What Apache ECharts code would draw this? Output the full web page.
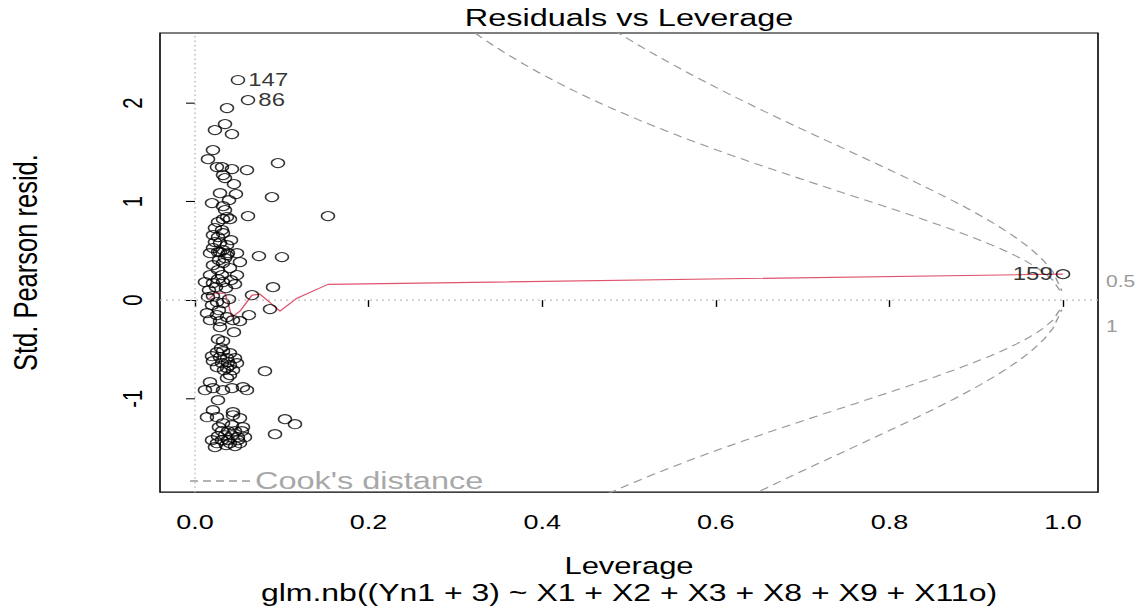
<!DOCTYPE html>
<html>
<head>
<meta charset="utf-8">
<script src="https://cdn.jsdelivr.net/npm/echarts@6/dist/echarts.min.js"></script>
<style>
  html, body { margin: 0; padding: 0; width: 1145px; height: 607px; overflow: hidden; background: #fff; }
  /* The figure is laid out on a 1145x809 canvas and compressed vertically to the 607px page height. */
  #chart { width: 1145px; height: 809px; transform: scaleY(0.7503); transform-origin: 0 0; }
</style>
</head>
<body>
<div id="chart"></div>
<script>
// Hat values (leverage) of each observation
const leverage = [
  0.0495, 0.0611, 0.0369, 0.0346, 0.0230, 0.0426, 0.0207, 0.0150, 0.0253, 0.0311,
  0.0426, 0.0599, 0.0323, 0.0346, 0.0449, 0.0956, 0.0288, 0.0472, 0.0196, 0.0323,
  0.0392, 0.0887, 0.0323, 0.0369, 0.0403, 0.0611, 0.1532, 0.0230, 0.0311, 0.0207,
  0.0265, 0.0323, 0.0230, 0.0288, 0.0369, 0.0207, 0.0265, 0.0323, 0.0380, 0.0346,
  0.0265, 0.0415, 0.0173, 0.0288, 0.0369, 0.0484, 0.0737, 0.1002, 0.0207, 0.0323,
  0.0518, 0.0265, 0.0403, 0.0173, 0.0311, 0.0484, 0.0115, 0.0207, 0.0323, 0.0461,
  0.0899, 0.0657, 0.0150, 0.0207, 0.0161, 0.0357, 0.0265, 0.0276, 0.0346, 0.0242,
  0.0415, 0.0392, 0.0253, 0.0323, 0.0138, 0.0253, 0.0369, 0.0173, 0.0288, 0.0438,
  0.0518, 0.0864, 0.0622, 0.0449, 0.0288, 0.0196, 0.0276, 0.0265, 0.0323, 0.0253,
  0.0323, 0.0403, 0.0196, 0.0288, 0.0369, 0.0461, 0.0207, 0.0311, 0.0403, 0.0484,
  0.0253, 0.0369, 0.0438, 0.0403, 0.0369, 0.0806, 0.0173, 0.0207, 0.0115, 0.0323,
  0.0426, 0.0553, 0.0599, 0.0265, 0.0300, 0.0380, 0.0334, 0.0207, 0.0138, 0.0253,
  0.0438, 0.0438, 0.0518, 0.0323, 0.0553, 0.0311, 0.0380, 0.0461, 0.0541, 0.0265,
  0.0346, 0.0426, 0.0495, 0.0576, 0.0311, 0.0380, 0.0495, 0.0230, 0.0403, 0.0253,
  0.0461, 0.0196, 0.1037, 0.1152, 0.0922, 0.0276, 0.0426, 0.0357, 0.0518, 1.0000
];

// Standardized Pearson residuals, same order as leverage
const stdResid = [
   2.234,  2.030,  1.949,  1.787,  1.726,  1.685,  1.523,  1.431,  1.350,  1.350,
   1.330,  1.320,  1.269,  1.239,  1.178,  1.391,  1.086,  1.076,  0.985,  0.954,
   1.015,  1.046,  0.822,  0.843,  0.822,  0.853,  0.853,  0.731,  0.711,  0.660,
   0.640,  0.680,  0.589,  0.579,  0.558,  0.528,  0.487,  0.508,  0.477,  0.914,
   0.792,  0.609,  0.477,  0.487,  0.457,  0.477,  0.447,  0.437,  0.355,  0.376,
   0.386,  0.305,  0.325,  0.254,  0.254,  0.254,  0.183,  0.173,  0.183,  0.162,
   0.132,  0.051,  0.030,  0.041,  0.102,  0.122,  0.213,  0.406,  0.426,  0.132,
   0.203,  0.010, -0.020, -0.030, -0.132, -0.152, -0.173, -0.203, -0.213, -0.203,
  -0.213, -0.091, -0.152, -0.325, -0.274, -0.051, -0.102, -0.396, -0.416, -0.528,
  -0.518, -0.538, -0.569, -0.579, -0.589, -0.589, -0.619, -0.640, -0.660, -0.640,
  -0.680, -0.690, -0.711, -0.761, -0.792, -0.721, -0.832, -0.893, -0.914, -0.914,
  -0.893, -0.883, -0.914, -1.015, -0.487, -0.630, -0.711, -1.117, -1.188, -1.188,
  -1.137, -1.168, -1.198, -1.249, -1.289, -1.330, -1.330, -1.330, -1.330, -1.381,
  -1.371, -1.371, -1.391, -1.391, -1.421, -1.421, -1.421, -1.492, -1.452, -1.452,
  -1.482, -1.421, -1.208, -1.259, -1.360, -1.289, -1.269, -1.472, -1.452,  0.264
];

// Observations flagged by name, and their position in the arrays above
const flaggedIds = ['147', '86', '159'];
const flaggedIndex = [0, 1, 149];

// Smoothed trend of residuals against leverage
const smoothLeverage = [0.0150, 0.0230, 0.0346, 0.0426, 0.0518, 0.0657, 0.0749, 0.0979, 0.1175, 0.1532, 1.0000];
const smoothResid    = [0.000,  0.071,  0.071, -0.173, -0.112,  0.051,  0.061, -0.112,  0.020,  0.160,  0.264];

// Cook's distance contours: number of model coefficients and contour levels
const nCoef = 7;
const cookLevels = [0.5, 1];

// Axis ticks
const xTicks = [0, 0.2, 0.4, 0.6, 0.8, 1.0];
const yTicks = [-1, 0, 1, 2];

const xMin = -0.0403, xMax = 1.0403;
const yMin = -1.949, yMax = 2.711;

const FONT = '"Liberation Sans", Arial, sans-serif';
const GREY = '#9a9a9a';

// Contour |r| = sqrt(D * p * (1 - h) / h) over the leverage range
function cookCurve(level, sign) {
  const pts = [];
  const h0 = 0.0001, n = 101;
  for (let i = 0; i < n; i++) {
    const h = h0 + (xMax - h0) * i / (n - 1);
    if (h > 1) break;
    pts.push([h, sign * Math.sqrt(level * nCoef * (1 - h) / h)]);
  }
  return pts;
}

// Contour heights at the right margin, where they are labelled
const hLab = Math.min(0.99, xMax);
const cookAt = lv => Math.sqrt(lv * nCoef * (1 - hLab) / hLab);
const rightLabelValues = [-cookAt(cookLevels[1]), cookAt(cookLevels[0])];
const rightLabelText = [String(cookLevels[1]), String(cookLevels[0])];

const mid = (xMin + xMax) / 2;
const points = leverage.map((h, i) => {
  const k = flaggedIndex.indexOf(i);
  const item = { value: [h, stdResid[i]] };
  if (k >= 0) {
    item.label = {
      show: true,
      formatter: flaggedIds[k],
      position: h > mid ? 'left' : 'right',
      distance: 3,
      fontSize: 24,
      fontFamily: FONT,
      color: '#000'
    };
  }
  return item;
});

const cookSeries = [];
cookLevels.forEach(lv => {
  [1, -1].forEach(sign => {
    cookSeries.push({
      name: "Cook's distance",
      type: 'line',
      data: cookCurve(lv, sign),
      showSymbol: false,
      symbol: 'none',
      color: GREY,
      lineStyle: { color: GREY, width: 1.5, type: [9, 6] },
      silent: true,
      clip: true,
      z: 1
    });
  });
});

const chart = echarts.init(document.getElementById('chart'), null, { renderer: 'svg' });

chart.setOption({
  animation: false,
  backgroundColor: '#fff',
  title: [
    {
      text: 'Residuals vs Leverage',
      left: 629, top: 7, padding: 0, textAlign: 'center',
      textStyle: { fontFamily: FONT, fontSize: 32.5, fontWeight: 'normal', color: '#000', lineHeight: 34 }
    },
    {
      text: 'glm.nb((Yn1 + 3) ~ X1 + X2 + X3 + X8 + X9 + X11o)',
      left: 629, top: 776, padding: 0, textAlign: 'center',
      textStyle: { fontFamily: FONT, fontSize: 32, fontWeight: 'normal', color: '#000', lineHeight: 28 }
    }
  ],
  legend: {
    data: ["Cook's distance"],
    left: 190, top: 624, padding: 0,
    itemWidth: 60, itemHeight: 2,
    icon: 'path://M0,0H8V2H0Z M13,0H21V2H13Z M26,0H34V2H26Z M39,0H47V2H39Z M52,0H60V2H52Z',
    selectedMode: false,
    textStyle: { fontFamily: FONT, fontSize: 32.5, color: '#a8a8a8', lineHeight: 34 }
  },
  grid: {
    left: 160, right: 47, top: 44, bottom: 153,
    show: true, borderColor: '#000', borderWidth: 1.6, backgroundColor: 'transparent'
  },
  xAxis: {
    type: 'value', min: xMin, max: xMax,
    name: 'Leverage', nameLocation: 'middle', nameGap: 84,
    nameTextStyle: { fontFamily: FONT, fontSize: 31, color: '#000', lineHeight: 28 },
    axisLine: { show: false },
    axisTick: { show: true, customValues: xTicks, length: 9, lineStyle: { color: '#000', width: 1.4 } },
    axisLabel: {
      customValues: xTicks, margin: 26,
      formatter: v => v.toFixed(1),
      fontFamily: FONT, fontSize: 27, color: '#000'
    },
    splitLine: { show: false }
  },
  yAxis: [
    {
      type: 'value', min: yMin, max: yMax,
      name: 'Std. Pearson resid.', nameLocation: 'middle', nameGap: 118,
      nameTextStyle: { fontFamily: FONT, fontSize: 34, color: '#000', lineHeight: 34 },
      axisLine: { show: false },
      axisTick: { show: true, customValues: yTicks, length: 9, lineStyle: { color: '#000', width: 1.4 } },
      axisLabel: {
        customValues: yTicks, rotate: 90, margin: 14,
        formatter: v => String(v),
        fontFamily: FONT, fontSize: 27, color: '#000'
      },
      splitLine: { show: false }
    },
    {
      type: 'value', min: yMin, max: yMax, position: 'right',
      axisLine: { show: false },
      axisTick: { show: false },
      axisLabel: {
        customValues: rightLabelValues, margin: 8,
        formatter: v => rightLabelText[rightLabelValues.findIndex(r => Math.abs(r - v) < 1e-6)] || '',
        fontFamily: FONT, fontSize: 21, color: GREY
      },
      splitLine: { show: false }
    }
  ],
  series: [
    {
      name: 'observations',
      type: 'scatter',
      data: points,
      symbol: 'circle',
      symbolSize: [13, 12],
      itemStyle: { color: 'rgba(0,0,0,0)', borderColor: '#000', borderWidth: 1.5 },
      emphasis: { disabled: true },
      silent: true,
      z: 3,
      markLine: {
        silent: true,
        symbol: 'none',
        label: { show: false },
        lineStyle: { color: '#bdbdbd', width: 1.5, type: [2, 4] },
        data: [{ xAxis: 0 }, { yAxis: 0 }]
      }
    },
    {
      name: 'smooth',
      type: 'line',
      data: smoothLeverage.map((h, i) => [h, smoothResid[i]]),
      showSymbol: false,
      symbol: 'none',
      lineStyle: { color: '#DF536B', width: 1.5 },
      silent: true,
      z: 2
    },
    ...cookSeries
  ]
});
</script>
</body>
</html>
